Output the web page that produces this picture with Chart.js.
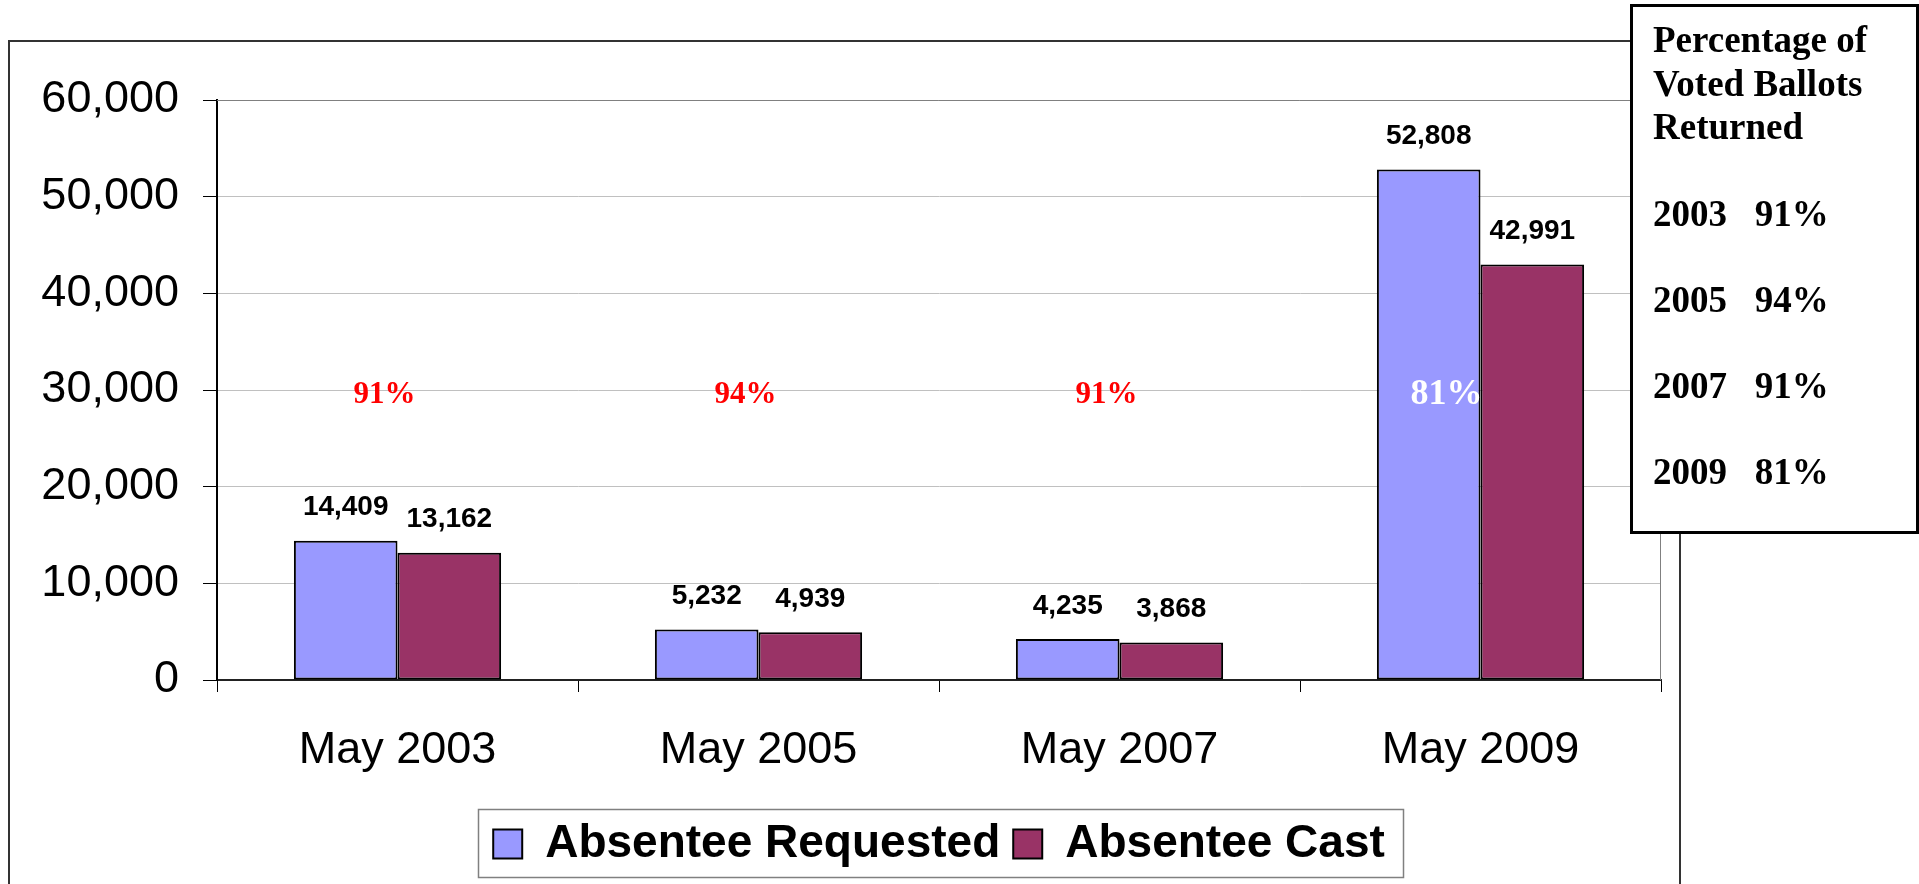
<!DOCTYPE html>
<html>
<head>
<meta charset="utf-8">
<script src="https://cdn.jsdelivr.net/npm/chart.js@4.4.0/dist/chart.umd.min.js"></script>
<style>
  html, body { margin: 0; padding: 0; background: #fff; }
  canvas { display: block; }
</style>
</head>
<body>
<canvas id="chart-absentee" width="1919" height="884"></canvas>
<script>
//
// Data
//
var categories = ["May 2003", "May 2005", "May 2007", "May 2009"];
var requested = [14409, 5232, 4235, 52808];
var cast = [13162, 4939, 3868, 42991];
var returnedPct = [91, 94, 91, 81];
var boxYears = ["2003", "2005", "2007", "2009"];
var boxTitle = ["Percentage of", "Voted Ballots", "Returned"];
var yTicks = [0, 10000, 20000, 30000, 40000, 50000, 60000];

var SANS = "'Liberation Sans', Arial, Helvetica, sans-serif";
var SERIF = "'Liberation Serif', 'Times New Roman', Times, serif";

function fmt(v) {
  return v.toLocaleString("en-US");
}

//
// Plugins
//

// white page, outer frame, plot border
var framePlugin = {
  id: "frame",
  beforeDraw: function (chart) {
    var ctx = chart.ctx;
    ctx.save();
    ctx.fillStyle = "#fff";
    ctx.fillRect(0, 0, chart.width, chart.height);
    ctx.strokeStyle = "#333";
    ctx.lineWidth = 2;
    ctx.strokeRect(9, 41, 1671, 900);
    ctx.restore();
  },
  beforeDatasetsDraw: function (chart) {
    var a = chart.chartArea, ctx = chart.ctx;
    ctx.save();
    ctx.strokeStyle = "#808080";
    ctx.lineWidth = 1;
    ctx.beginPath();
    ctx.moveTo(a.left, a.top + 0.5);
    ctx.lineTo(a.right - 0.5, a.top + 0.5);
    ctx.lineTo(a.right - 0.5, a.bottom);
    ctx.stroke();
    ctx.restore();
  }
};

// value labels above bars + percentage labels
var labelsPlugin = {
  id: "barLabels",
  afterDatasetsDraw: function (chart) {
    var ctx = chart.ctx;
    var xs = chart.scales.x, ys = chart.scales.y;
    ctx.save();
    ctx.textAlign = "center";
    ctx.textBaseline = "middle";
    ctx.font = "bold 28px " + SANS;
    ctx.fillStyle = "#000";
    chart.data.datasets.forEach(function (ds, i) {
      chart.getDatasetMeta(i).data.forEach(function (bar, j) {
        ctx.fillText(fmt(ds.data[j]), bar.x, bar.y - 33);
      });
    });
    returnedPct.forEach(function (p, j) {
      var last = j === returnedPct.length - 1;
      ctx.font = "bold " + (last ? 36 : 31) + "px " + SERIF;
      ctx.fillStyle = last ? "#fff" : "#ff0000";
      ctx.fillText(p + "%", xs.getPixelForValue(j) - (last ? 34 : 13), ys.getPixelForValue(29500));
    });
    ctx.restore();
  }
};

// legend border + side box
var boxPlugin = {
  id: "sideBox",
  afterDraw: function (chart) {
    var ctx = chart.ctx;
    ctx.save();

    var hb = chart.legend.legendHitBoxes;
    if (hb && hb.length) {
      var last = hb[hb.length - 1];
      var l = hb[0].left - 15, r = last.left + last.width + 18;
      var t = hb[0].top - 12.5, b = hb[0].top + hb[0].height + 9.5;
      ctx.strokeStyle = "#808080";
      ctx.lineWidth = 1.5;
      ctx.strokeRect(Math.round(l) + 0.5, Math.round(t) + 0.5, Math.round(r - l), Math.round(b - t));
    }

    ctx.fillStyle = "#fff";
    ctx.fillRect(1631, 5, 286, 528);
    ctx.strokeStyle = "#000";
    ctx.lineWidth = 3;
    ctx.strokeRect(1631.5, 5.5, 286, 527);

    ctx.fillStyle = "#000";
    ctx.font = "bold 37px " + SERIF;
    ctx.textAlign = "left";
    ctx.textBaseline = "alphabetic";
    boxTitle.forEach(function (s, i) {
      ctx.fillText(s, 1653, 52 + i * 43.5);
    });
    boxYears.forEach(function (y, i) {
      ctx.fillText(y + "   " + returnedPct[i] + "%", 1653, 226 + i * 86);
    });
    ctx.restore();
  }
};

//
// Chart
//
var $chart = document.getElementById("chart-absentee");

var absenteeChart = new Chart($chart, {
  type: "bar",
  data: {
    labels: categories,
    datasets: [
      {
        label: "Absentee Requested",
        data: requested,
        backgroundColor: "#9999ff",
        borderColor: "#000",
        borderWidth: 2,
        borderSkipped: false
      },
      {
        label: "Absentee Cast",
        data: cast,
        backgroundColor: "#993366",
        borderColor: "#000",
        borderWidth: 2,
        borderSkipped: false
      }
    ]
  },
  options: {
    responsive: false,
    animation: false,
    devicePixelRatio: 1,
    events: [],
    categoryPercentage: 0.574,
    barPercentage: 1,
    layout: { padding: { left: 0, top: 100, right: 258, bottom: 7 } },
    plugins: {
      tooltip: { enabled: false },
      legend: {
        position: "bottom",
        fullSize: false,
        labels: {
          boxWidth: 29,
          boxHeight: 29,
          padding: 13,
          color: "#000",
          font: { family: SANS, size: 46, weight: "bold" }
        }
      }
    },
    scales: {
      x: {
        afterFit: function (scale) { scale.height = 128; },
        grid: {
          offset: true,
          drawOnChartArea: false,
          tickLength: 12,
          tickColor: "#000",
          tickWidth: 1
        },
        border: { color: "#222", width: 2 },
        ticks: {
          color: "#000",
          padding: 32,
          font: { family: SANS, size: 45 }
        }
      },
      y: {
        min: 0,
        max: 60000,
        afterFit: function (scale) { scale.width = 217; },
        afterBuildTicks: function (scale) {
          scale.ticks = yTicks.map(function (v) { return { value: v }; });
        },
        grid: {
          color: "#c0c0c0",
          lineWidth: 1,
          tickLength: 14,
          tickColor: "#000",
          tickWidth: 1
        },
        border: { color: "#000", width: 2 },
        ticks: {
          color: "#000",
          padding: 24,
          font: { family: SANS, size: 45 },
          callback: function (v) { return fmt(v); }
        }
      }
    }
  },
  plugins: [framePlugin, labelsPlugin, boxPlugin]
});
</script>
</body>
</html>
